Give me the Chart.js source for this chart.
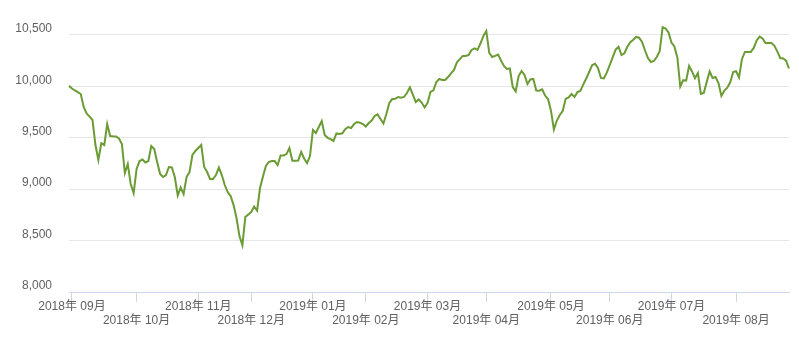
<!DOCTYPE html>
<html>
<head>
<meta charset="utf-8">
<script src="https://cdn.jsdelivr.net/npm/chart.js@4/dist/chart.umd.min.js"></script>
<style>
    body { margin: 0; background: #fff; }
    canvas { display: block; }
</style>
</head>
<body>
<canvas id="myChart" width="799" height="338"></canvas>
<script>
// month names (first one is only a partial month, no tick)
const months = ['2018年 08月', '2018年 09月', '2018年 10月', '2018年 11月', '2018年 12月', '2019年 01月',
    '2019年 02月', '2019年 03月', '2019年 04月', '2019年 05月', '2019年 06月', '2019年 07月', '2019年 08月'];

// daily values, one array per month
const aug2018 = [10004];
const sep2018 = [9979, 9959, 9944, 9925, 9799, 9735, 9705, 9672, 9429, 9283, 9448, 9429, 9633, 9517, 9514, 9512, 9492, 9439, 9157, 9244, 9050, 8962];
const oct2018 = [9196, 9273, 9288, 9259, 9273, 9419, 9390, 9264, 9147, 9118, 9137, 9215, 9212, 9118, 8938, 9017, 8952, 9118, 9166, 9332, 9371];
const nov2018 = [9400, 9429, 9215, 9166, 9098, 9098, 9137, 9210, 9137, 9040, 8972, 8933, 8845, 8719, 8544, 8456, 8729, 8753];
const dec2018 = [8777, 8831, 8792, 9011, 9123, 9225, 9264, 9273, 9273, 9234, 9327, 9327, 9341, 9400, 9276, 9276, 9278, 9361, 9298, 9254, 9322];
const jan2019 = [9575, 9546, 9604, 9662, 9526, 9499, 9487, 9468, 9541, 9536, 9543, 9582, 9604, 9594, 9633, 9653, 9646, 9633];
const feb2019 = [9609, 9643, 9667, 9711, 9728, 9682, 9638, 9731, 9838, 9876, 9878, 9896, 9889, 9896, 9935, 9990, 9920, 9847, 9872, 9842, 9794];
const mar2019 = [9838, 9945, 9961, 10042, 10071, 10061, 10061, 10090, 10125, 10159, 10233, 10264, 10295, 10295, 10304, 10353, 10368, 10353, 10416, 10489];
const apr2019 = [10538, 10324, 10285, 10295, 10309, 10251, 10197, 10168, 10173, 9993, 9951, 10100, 10149, 10110, 10022, 10066, 10071, 9959, 9957, 9970, 9910, 9876];
const may2019 = [9763, 9580, 9667, 9721, 9760, 9878, 9892, 9925, 9896, 9943, 9954, 10018, 10076, 10139, 10205, 10219, 10178, 10081, 10076, 10132];
const jun2019 = [10207, 10282, 10356, 10384, 10304, 10321, 10384, 10428, 10452, 10480, 10472, 10431, 10348, 10275, 10236, 10246, 10285, 10340, 10574, 10562, 10523];
const jul2019 = [10425, 10387, 10280, 9998, 10059, 10055, 10197, 10144, 10078, 10129, 9925, 9935, 10042, 10144, 10081, 10090, 10032, 9906, 9958, 9986, 10039, 10139];
const aug2019 = [10146, 10086, 10266, 10334, 10334, 10334, 10373, 10446, 10483, 10465, 10421, 10421, 10421, 10396, 10339, 10275, 10270, 10250, 10173];

const yTicks = [8000, 8500, 9000, 9500, 10000, 10500];

const monthValues = [aug2018, sep2018, oct2018, nov2018, dec2018, jan2019, feb2019,
    mar2019, apr2019, may2019, jun2019, jul2019, aug2019];

let labels = [];
let values = [];
let tickIndex = [];
let tickLabels = [];
monthValues.forEach(function (arr, m) {
    if (m > 0) {
        tickIndex.push(values.length);
        tickLabels.push(months[m]);
    }
    arr.forEach(function (v) {
        labels.push(months[m]);
        values.push(v);
    });
});

const font = { family: '"Liberation Sans", "Noto Sans CJK JP", sans-serif', size: 12 };

const ctx = document.getElementById('myChart');
const myChart = new Chart(ctx, {
    type: 'line',
    data: {
        labels: labels,
        datasets: [{
            data: values,
            borderColor: '#6b9b35',
            borderWidth: 2,
            pointRadius: 0,
            tension: 0,
            fill: false
        }]
    },
    options: {
        responsive: false,
        animation: false,
        layout: {
            padding: { top: 4, right: 10, left: 0, bottom: 0 }
        },
        plugins: {
            legend: { display: false },
            tooltip: { enabled: false }
        },
        scales: {
            x: {
                type: 'category',
                offset: false,
                grid: {
                    display: true,
                    drawOnChartArea: false,
                    drawTicks: true,
                    tickLength: 10,
                    tickColor: '#ccd6eb'
                },
                border: { display: true, color: '#ccd6eb' },
                ticks: {
                    autoSkip: false,
                    maxRotation: 0,
                    minRotation: 0,
                    padding: -3,
                    color: '#606060',
                    font: font,
                    callback: function (value, k) {
                        return k % 2 === 0 ? [tickLabels[k]] : ['', tickLabels[k]];
                    }
                },
                afterBuildTicks: function (scale) {
                    scale.ticks = tickIndex.map(function (i) { return { value: i }; });
                },
                afterFit: function (scale) {
                    scale.height = 46;
                    scale.paddingLeft = 0;
                    scale.paddingRight = 0;
                }
            },
            y: {
                min: 8000,
                max: 10800,
                grid: {
                    color: '#e6e6e6',
                    drawTicks: false
                },
                border: { display: false },
                ticks: {
                    padding: 17,
                    labelOffset: -6,
                    color: '#606060',
                    font: font,
                    callback: function (v) {
                        return v.toLocaleString('en-US');
                    }
                },
                afterBuildTicks: function (scale) {
                    scale.ticks = yTicks.map(function (v) { return { value: v }; });
                },
                afterFit: function (scale) {
                    scale.width = 69;
                    scale.paddingTop = 0;
                    scale.paddingBottom = 0;
                }
            }
        }
    }
});
</script>
</body>
</html>
